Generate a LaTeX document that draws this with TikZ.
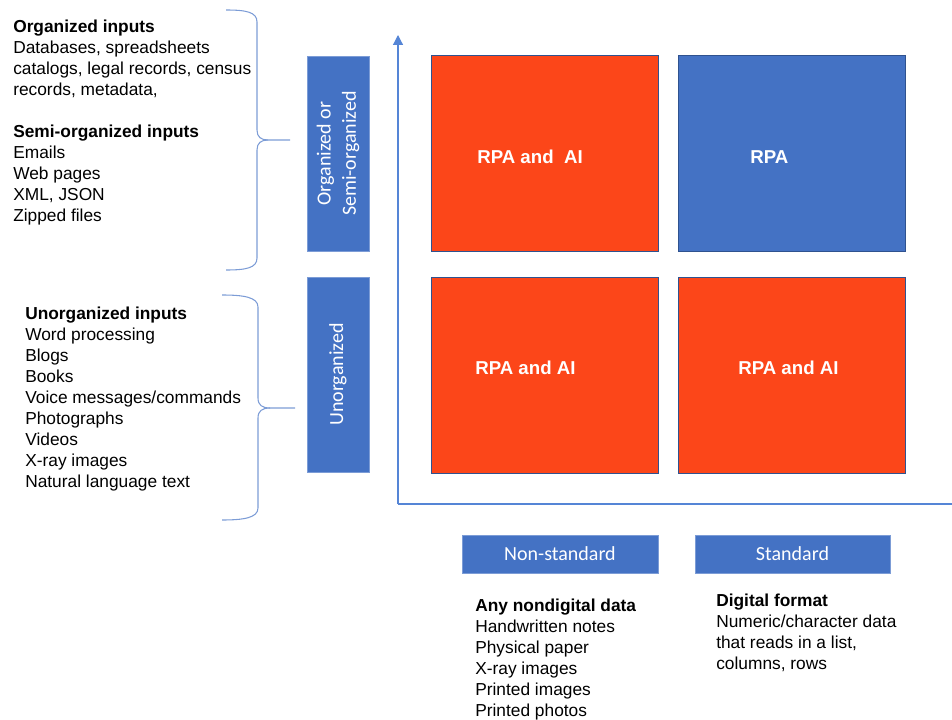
\documentclass[tikz,border=0pt]{standalone}
\usepackage{fontspec}
\setmainfont{Liberation Sans}
\newfontfamily\calibri{Carlito}
\usetikzlibrary{arrows.meta,positioning}
\definecolor{boxblue}{HTML}{4472C4}
\definecolor{boxred}{HTML}{FC4619}
\definecolor{edgeblue}{HTML}{2F528F}
\definecolor{bracecol}{HTML}{7C9CD6}
\definecolor{axiscol}{HTML}{5585D6}

\tikzset{
  cell/.style={draw=edgeblue, line width=0.6pt, inner sep=0pt, anchor=north west,
    minimum width=170.5pt, minimum height=147pt},
  celltext/.style={anchor=west, inner sep=0pt, text=white, font=\fontsize{14}{16}\selectfont\bfseries},
  tag/.style={fill=boxblue, draw=boxblue!70!white, line width=0.5pt, inner sep=0pt, text=white,
    font=\calibri\fontsize{15}{19}\selectfont, align=center},
  listtext/.style={anchor=north west, inner sep=0pt, align=left,
    font=\fontsize{13}{15.75}\selectfont},
  axisline/.style={draw=axiscol, line width=0.9pt},
  brace/.style={draw=bracecol, line width=0.8pt}
}

\begin{document}
\begin{tikzpicture}[x=0.75pt,y=0.75pt,yscale=-1,xscale=1]
\useasboundingbox (0,0) rectangle (952,720);

% Axes
\coordinate (origin) at (398,504);
\coordinate (ytop) at (398,35);
\coordinate (xend) at (952,504);
\draw [axisline, -{Triangle[width=7.5pt,length=7.5pt]}] (origin) -- (ytop);
\draw [axisline] (origin) -- (xend);

% Quadrant boxes
\node [cell, fill=boxred] (tl) at (431,55) {};
\node [cell, fill=boxblue] (tr) at (678,55) {};
\node [cell, fill=boxred] (bl) at (431,277) {};
\node [cell, fill=boxred] (br) at (678,277) {};

% Quadrant labels
\node [celltext] (tltext) at (477,157) {RPA and\ \ AI};
\node [celltext] (trtext) at (750,157) {RPA};
\node [celltext] (bltext) at (475,368) {RPA and AI};
\node [celltext] (brtext) at (738,368) {RPA and AI};

% Row tags
\node [tag, rotate=90, minimum width=146.25pt, minimum height=46.5pt] (organized) at (338,153.5) {Organized or\\Semi-organized};
\node [tag, rotate=90, minimum width=146.25pt, minimum height=46.5pt] (unorganized) at (338,374.5) {Unorganized};

% Column tags
\node [tag, minimum width=147pt, minimum height=28.5pt] (nonstandard) at (560,554) {Non-standard};
\node [tag, minimum width=146pt, minimum height=28.5pt] (standard) at (792.5,554) {Standard};

% Braces
\draw [brace] (226,10) .. controls (246,10) and (257,12) .. (257,22) -- (257,130)
  .. controls (257,137) and (261,140) .. (268,140) -- (290,140);
\draw [brace] (268,140) .. controls (261,140) and (257,143) .. (257,150) -- (257,258)
  .. controls (257,268) and (246,270) .. (226,270);
\draw [brace] (222,295) .. controls (243,295) and (258,297) .. (258,307) -- (258,398)
  .. controls (258,405) and (262,408) .. (270,408) -- (295,408);
\draw [brace] (270,408) .. controls (262,408) and (258,411) .. (258,418) -- (258,508)
  .. controls (258,518) and (243,520) .. (222,520);

% Text Node
\node [listtext] (orginputs) at (13,19.5) {\textbf{Organized inputs}\\
  Databases, spreadsheets\\
  catalogs, legal records, census\\
  records, metadata,\\[15.75pt]
  \textbf{Semi-organized inputs}\\
  Emails\\
  Web pages\\
  XML, JSON\\
  Zipped files};
% Text Node
\node [listtext] (unorginputs) at (25,306.5) {\textbf{Unorganized inputs}\\
  Word processing\\
  Blogs\\
  Books\\
  Voice messages/commands\\
  Photographs\\
  Videos\\
  X-ray images\\
  Natural language text};
% Text Node
\node [listtext] (nondigital) at (475,598.5) {\textbf{Any nondigital data}\\
  Handwritten notes\\
  Physical paper\\
  X-ray images\\
  Printed images\\
  Printed photos};
% Text Node
\node [listtext] (digital) at (716,593.5) {\textbf{Digital format}\\
  Numeric/character data\\
  that reads in a list,\\
  columns, rows};

\end{tikzpicture}
\end{document}
